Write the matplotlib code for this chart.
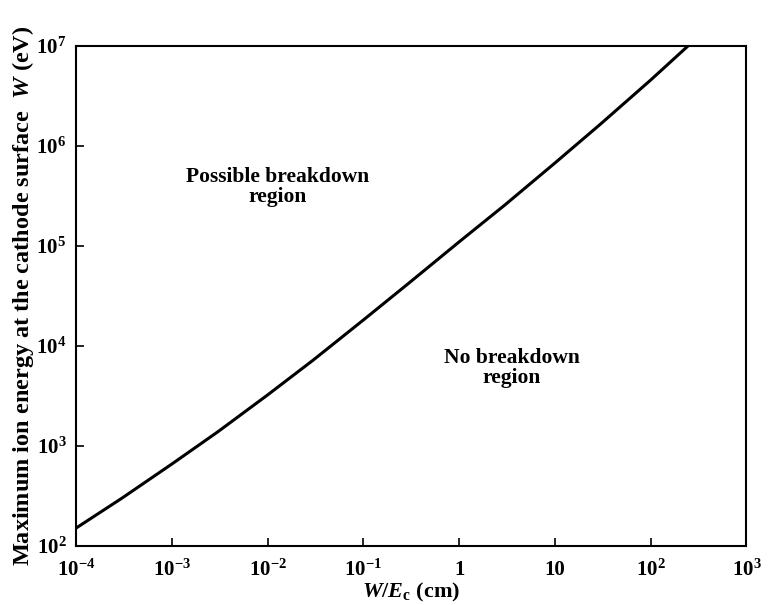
import numpy as np
import matplotlib
matplotlib.use("Agg")
import matplotlib.pyplot as plt
from matplotlib.ticker import FixedLocator, FixedFormatter

plt.rcParams['font.family'] = ['Liberation Serif', 'DejaVu Serif']
plt.rcParams['mathtext.fontset'] = 'custom'
plt.rcParams['mathtext.rm'] = 'Liberation Serif:bold'
plt.rcParams['mathtext.it'] = 'Liberation Serif:bold:italic'
plt.rcParams['mathtext.bf'] = 'Liberation Serif:bold'

# curve (W/Ec in cm, max ion energy in eV)
w_over_ec = [1e-4, 3e-4, 1e-3, 3e-3, 1e-2, 3e-2, 1e-1, 3e-1, 1, 3, 10, 30, 100, 245]
ion_energy = [151, 300, 660, 1380, 3240, 7240, 18200, 42700, 110000,
              257000, 676000, 1.66e6, 4.57e6, 1.0e7]

x_ticks = [1e-4, 1e-3, 1e-2, 1e-1, 1, 10, 1e2, 1e3]
x_labels = [r"$10^{-4}$", r"$10^{-3}$", r"$10^{-2}$", r"$10^{-1}$", "1", "10",
            r"$10^{2}$", r"$10^{3}$"]
y_ticks = [1e2, 1e3, 1e4, 1e5, 1e6, 1e7]
y_labels = [r"$10^{2}$", r"$10^{3}$", r"$10^{4}$", r"$10^{5}$", r"$10^{6}$", r"$10^{7}$"]

fig = plt.figure(figsize=(7.68, 6.05), dpi=100)
ax = fig.add_axes([0.099, 0.0975, 0.873, 0.8265])

ax.plot(w_over_ec, ion_energy, color="black", linewidth=2.2, solid_capstyle="butt")

ax.set_xscale("log")
ax.set_yscale("log")
ax.set_xlim(1e-4, 1e3)
ax.set_ylim(1e2, 1e7)

ax.xaxis.set_major_locator(FixedLocator(x_ticks))
ax.xaxis.set_major_formatter(FixedFormatter(x_labels))
ax.yaxis.set_major_locator(FixedLocator(y_ticks))
ax.yaxis.set_major_formatter(FixedFormatter(y_labels))
ax.minorticks_off()
ax.tick_params(direction="in", length=6, width=1.2, labelsize=15, pad=7)
ax.tick_params(axis="x", pad=10)
for lab in ax.get_xticklabels() + ax.get_yticklabels():
    lab.set_fontweight("bold")
for sp in ax.spines.values():
    sp.set_linewidth(1.5)

ax.set_xlabel(r"$W/E_{\rm c}$ (cm)", fontsize=16, fontweight="bold", labelpad=0)
ax.set_ylabel(r"Maximum ion energy at the cathode surface  $W$ (eV)",
              fontsize=17.5, fontweight="bold", labelpad=0)

ax.text(0.0128, 3.9e5, "Possible breakdown\nregion", ha="center", va="center",
        fontsize=15.5, fontweight="bold", linespacing=1.0)
ax.text(3.56, 6000, "No breakdown\nregion", ha="center", va="center",
        fontsize=15.5, fontweight="bold", linespacing=1.0)

fig.savefig("out.png", dpi=100)
